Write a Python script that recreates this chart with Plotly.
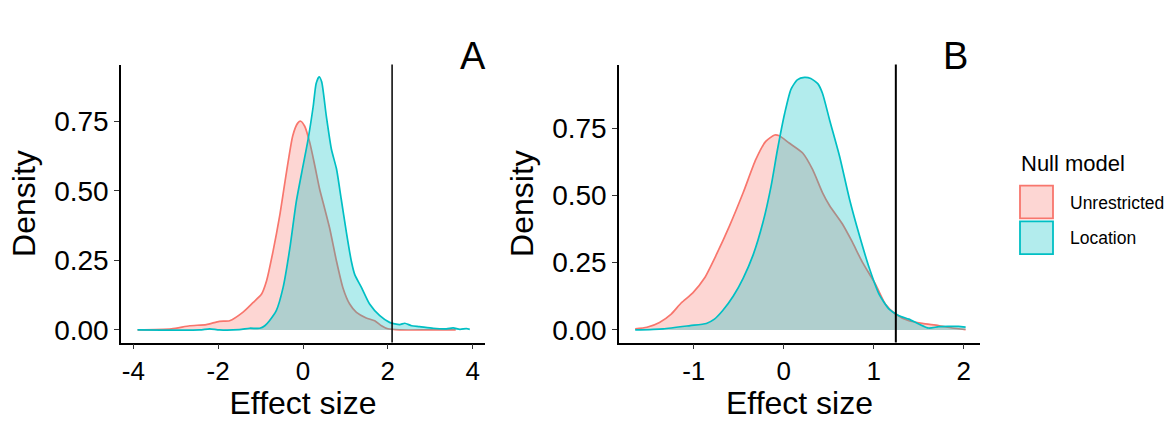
import plotly.graph_objects as go
from plotly.subplots import make_subplots

# ---------------- data ----------------
a_unres_x = [-3.9, -3.1, -2.67, -2.28, -1.97, -1.73, -1.42, -1.18, -0.98, -0.86, -0.71, -0.55, -0.39, -0.24,
             -0.12, -0.055, 0.04, 0.16, 0.28, 0.39, 0.51, 0.63, 0.79, 0.94, 1.10, 1.26, 1.49, 1.69, 1.85,
             2.0, 2.28, 3.0, 3.6]
a_unres_y = [0.0, 0.004, 0.015, 0.019, 0.031, 0.033, 0.063, 0.098, 0.128, 0.176, 0.28, 0.41, 0.567, 0.70,
             0.745, 0.751, 0.733, 0.674, 0.59, 0.508, 0.437, 0.365, 0.247, 0.152, 0.093, 0.063, 0.043,
             0.033, 0.015, 0.004, 0.0, 0.0, 0.0]

a_loc_x = [-3.9, -2.44, -2.2, -1.97, -1.5, -1.26, -1.02, -0.90, -0.79, -0.63, -0.47, -0.31, -0.16, 0.0,
           0.12, 0.24, 0.31, 0.38, 0.44, 0.55, 0.67, 0.79, 0.90, 1.02, 1.14, 1.22, 1.38, 1.57, 1.81, 2.04,
           2.28, 2.40, 2.56, 2.75, 3.07, 3.38, 3.54, 3.70, 3.85, 3.93]
a_loc_y = [0.0, 0.0, 0.004, 0.0, 0.001, 0.006, 0.006, 0.015, 0.033, 0.069, 0.152, 0.294, 0.46, 0.59,
           0.686, 0.804, 0.887, 0.911, 0.893, 0.769, 0.65, 0.579, 0.472, 0.354, 0.247, 0.199, 0.152,
           0.093, 0.051, 0.027, 0.019, 0.024, 0.015, 0.012, 0.006, 0.004, 0.007, 0.002, 0.005, 0.002]

b_unres_x = [-1.65, -1.52, -1.38, -1.25, -1.14, -1.01, -0.88, -0.75, -0.60, -0.45, -0.31, -0.20, -0.10,
             -0.05, 0.06, 0.21, 0.32, 0.43, 0.51, 0.65, 0.76, 0.87, 1.02, 1.13, 1.24, 1.39, 1.54, 1.72,
             1.87, 2.02]
b_unres_y = [0.004, 0.01, 0.028, 0.059, 0.10, 0.138, 0.193, 0.279, 0.389, 0.511, 0.634, 0.701, 0.725,
             0.722, 0.695, 0.658, 0.597, 0.511, 0.462, 0.395, 0.328, 0.254, 0.169, 0.095, 0.059, 0.034,
             0.024, 0.016, 0.007, 0.001]

b_loc_x = [-1.65, -1.34, -1.04, -0.86, -0.77, -0.68, -0.56, -0.45, -0.34, -0.23, -0.14, -0.07, 0.01,
           0.08, 0.15, 0.23, 0.30, 0.38, 0.43, 0.51, 0.62, 0.73, 0.84, 0.95, 1.06, 1.17, 1.28, 1.39,
           1.50, 1.61, 1.72, 1.83, 1.94, 2.02]
b_loc_y = [0.0, 0.004, 0.016, 0.024, 0.04, 0.071, 0.126, 0.193, 0.279, 0.401, 0.536, 0.670, 0.805,
           0.895, 0.930, 0.939, 0.935, 0.915, 0.880, 0.780, 0.646, 0.487, 0.352, 0.230, 0.132, 0.077,
           0.053, 0.04, 0.022, 0.007, 0.012, 0.013, 0.013, 0.01]

vline_a = 2.10
vline_b = 1.245

series_names = ["Unrestricted", "Location"]
line_colors = ["#F8766D", "#00BFC4"]
fill_colors = ["rgba(248,118,109,0.3)", "rgba(0,191,196,0.3)"]
panel_labels = ["A", "B"]
a_xticks = [-4, -2, 0, 2, 4]
b_xticks = [-1, 0, 1, 2]
y_ticks = [0, 0.25, 0.5, 0.75]

FONT = "Liberation Sans, Arial, sans-serif"

fig = make_subplots(rows=1, cols=2)

panels = [
    (1, [(a_unres_x, a_unres_y), (a_loc_x, a_loc_y)]),
    (2, [(b_unres_x, b_unres_y), (b_loc_x, b_loc_y)]),
]
for col, series in panels:
    for i, (xs, ys) in enumerate(series):
        fig.add_trace(go.Scatter(
            x=xs, y=ys, mode="lines", name=series_names[i],
            line=dict(color=line_colors[i], width=1.7, shape="spline", smoothing=0.6),
            fill="tozeroy", fillcolor=fill_colors[i], showlegend=False, hoverinfo="skip"),
            row=1, col=col)

# vertical reference lines
fig.add_shape(type="line", xref="x", yref="y domain", x0=vline_a, x1=vline_a, y0=0, y1=1,
              line=dict(color="black", width=1.5))
fig.add_shape(type="line", xref="x2", yref="y2 domain", x0=vline_b, x1=vline_b, y0=0, y1=1,
              line=dict(color="black", width=2))

W, H = 1172, 421
def px(x):
    return x / W
def py(y):
    return 1 - y / H

ydom = [py(345), py(65)]
common_axis = dict(showgrid=False, zeroline=False, showline=True, linecolor="black", linewidth=1.5,
                   ticks="outside", ticklen=5, tickwidth=1.3, tickcolor="#333333")
x_tickfont = dict(family=FONT, size=26, color="black")
y_tickfont = dict(family=FONT, size=28, color="black")

fig.update_layout(
    width=W, height=H, margin=dict(l=0, r=0, t=0, b=0),
    plot_bgcolor="white", paper_bgcolor="white",
    font=dict(family=FONT, color="black"),
    showlegend=False,
    xaxis=dict(domain=[px(121), px(485)], range=[-4.29, 4.29], tickvals=a_xticks,
               ticktext=[str(v) for v in a_xticks], tickfont=x_tickfont,
               title=dict(text="Effect size", font=dict(size=32, family=FONT), standoff=6), **common_axis),
    xaxis2=dict(domain=[px(619), px(980)], range=[-1.83, 2.18], tickvals=b_xticks,
                ticktext=[str(v) for v in b_xticks], tickfont=x_tickfont,
                title=dict(text="Effect size", font=dict(size=32, family=FONT), standoff=6), **common_axis),
    yaxis=dict(domain=ydom, range=[-0.0455, 0.955], tickvals=y_ticks, tickformat=".2f",
               tickfont=y_tickfont,
               title=dict(text="Density", font=dict(size=32, family=FONT), standoff=9), **common_axis),
    yaxis2=dict(domain=ydom, range=[-0.047, 0.987], tickvals=y_ticks, tickformat=".2f",
                tickfont=y_tickfont,
                title=dict(text="Density", font=dict(size=32, family=FONT), standoff=9), **common_axis),
)

# panel labels
fig.add_annotation(text=panel_labels[0], x=px(473), y=py(33), xref="paper", yref="paper",
                   showarrow=False, font=dict(size=38, family=FONT, color="black"))
fig.add_annotation(text=panel_labels[1], x=px(970), y=py(33), xref="paper", yref="paper",
                   showarrow=False, font=dict(size=38, family=FONT, color="black"))

# legend (manual, ggplot style keys)
fig.add_annotation(text="Null model", x=px(1019), y=py(165), xref="paper", yref="paper",
                   xanchor="left", yanchor="middle", showarrow=False,
                   font=dict(size=22, family=FONT, color="black"))
key_tops = [187, 223]
for i, name in enumerate(series_names):
    t = key_tops[i]
    fig.add_shape(type="rect", xref="paper", yref="paper",
                  x0=px(1020), x1=px(1053), y0=py(t + 33), y1=py(t),
                  fillcolor=fill_colors[i], line=dict(color=line_colors[i], width=1.8))
    fig.add_annotation(text=name, x=px(1068), y=py(t + 17), xref="paper", yref="paper",
                       xanchor="left", yanchor="middle", showarrow=False,
                       font=dict(size=17.5, family=FONT, color="black"))

fig.write_html("out.html")
